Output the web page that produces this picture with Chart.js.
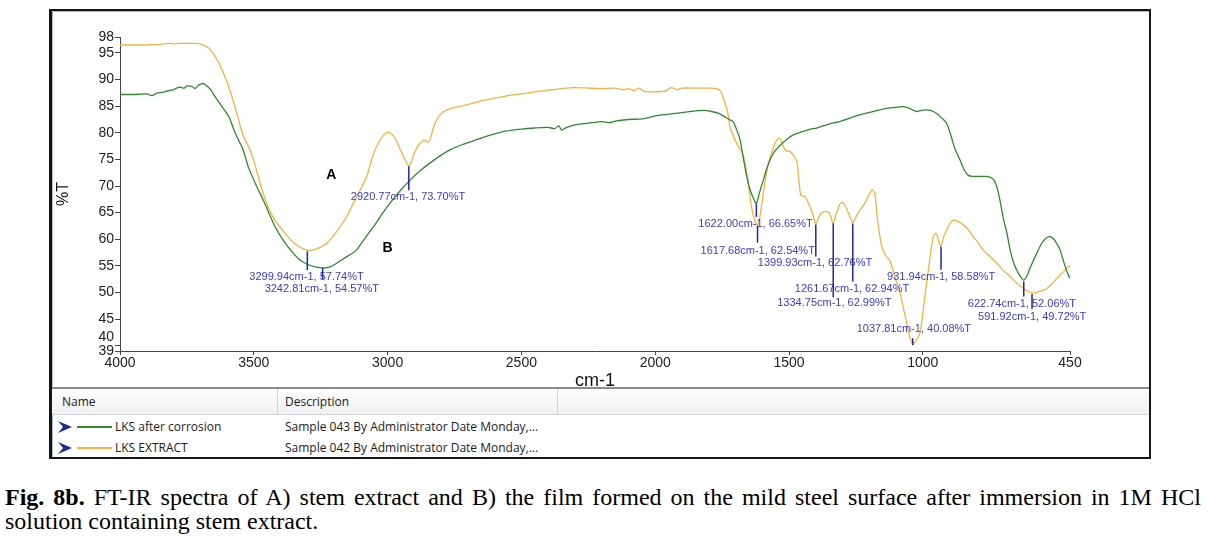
<!DOCTYPE html>
<html>
<head>
<meta charset="utf-8">
<script src="https://cdn.jsdelivr.net/npm/chart.js@4.4.1/dist/chart.umd.min.js"></script>
<style>
  body { margin: 0; width: 1210px; height: 537px; background: #fff; position: relative; overflow: hidden; }
  #frame { position: absolute; left: 49px; top: 9px; width: 1097px; height: 446px;
           border: 2px solid #161616; border-left-width: 3px; box-shadow: inset 1px 1px 0 #a7b7cc; }
  #chart { position: absolute; left: 52px; top: 12px; }
  #sep { position: absolute; left: 52px; top: 387px; width: 1097px; height: 2px; background: #8a8a8a; }
  #head { position: absolute; left: 52px; top: 389px; width: 1097px; height: 25px;
          background: linear-gradient(#fdfdfd, #eef0f3); border-bottom: 1px solid #d4d4d4; }
  .col { position: absolute; top: 389px; width: 1px; height: 25px; background: #d2d2d2; }
  .txt { position: absolute; font: 12px "Open Sans", "Noto Sans", sans-serif; color: #1b1b1b; line-height: 16px; }
  .key { position: absolute; left: 77px; width: 35px; height: 2px; }
  .arrow { position: absolute; left: 58px; }
  .cap { position: absolute; left: 5px; width: 1196px; font: 24px "Liberation Serif", "Times New Roman", serif; color: #000; line-height: 24px; }
</style>
</head>
<body>
<div id="frame"></div>
<canvas id="chart" width="1096" height="378"></canvas>
<div id="sep"></div>
<div id="head"></div>
<div class="col" style="left:277px"></div>
<div class="col" style="left:557px"></div>
<div class="txt" style="left:62px; top:394px">Name</div>
<div class="txt" style="left:285px; top:394px">Description</div>

<svg class="arrow" style="top:421px" width="15" height="12"><polygon points="0,0 14,6 0,12 5,6" fill="#1c2f8f"/></svg>
<div class="key" style="top:426px; background:#2f8a2f"></div>
<div class="txt" style="left:115px; top:419px">LKS after corrosion</div>
<div class="txt" style="left:285px; top:419px">Sample 043 By Administrator Date Monday,...</div>

<svg class="arrow" style="top:442px" width="15" height="12"><polygon points="0,0 14,6 0,12 5,6" fill="#1c2f8f"/></svg>
<div class="key" style="top:447px; background:#f3b23f"></div>
<div class="txt" style="left:115px; top:440px">LKS EXTRACT</div>
<div class="txt" style="left:285px; top:440px">Sample 042 By Administrator Date Monday,...</div>

<div class="cap" style="top:485px; white-space:nowrap; text-align:justify; text-align-last:justify"><b>Fig. 8b.</b> FT-IR spectra of A) stem extract and B) the film formed on the mild steel surface after immersion in 1M HCl</div>
<div class="cap" style="top:509px">solution containing stem extract.</div>

<script>
// LKS EXTRACT (curve A)
const extractWn = [4000, 3950, 3900, 3850, 3820, 3800, 3780, 3750, 3720, 3700, 3680, 3660, 3640, 3620, 3600,
  3580, 3560, 3540, 3514, 3490, 3465, 3440, 3420, 3402, 3370, 3340, 3310, 3290, 3260, 3228, 3200, 3178, 3150,
  3128, 3100, 3078, 3053, 3030, 3010, 2998, 2985, 2970, 2954, 2940, 2925, 2918, 2905, 2891, 2875, 2860, 2850,
  2840, 2825, 2810, 2790, 2760, 2700, 2650, 2600, 2550, 2500, 2450, 2400, 2350, 2300, 2250, 2200, 2150, 2120,
  2100, 2080, 2060, 2040, 2000, 1960, 1940, 1920, 1900, 1850, 1800, 1770, 1755, 1745, 1730, 1720, 1705, 1690,
  1672, 1655, 1640, 1628, 1618, 1608, 1595, 1580, 1560, 1545, 1534, 1522, 1510, 1495, 1480, 1470, 1462, 1455,
  1440, 1425, 1412, 1400, 1390, 1380, 1365, 1350, 1335, 1322, 1310, 1300, 1290, 1278, 1262, 1250, 1235, 1220,
  1205, 1190, 1180, 1170, 1155, 1140, 1123, 1105, 1085, 1070, 1060, 1048, 1038, 1025, 1011, 998, 986, 973, 961,
  950, 940, 932, 922, 911, 898, 886, 870, 849, 830, 812, 795, 775, 750, 724, 700, 674, 650, 625, 605, 592, 570,
  550, 538, 520, 500, 480, 457, 450]
const extractT = [96.5, 96.5, 96.5, 96.6, 96.8, 96.7, 96.8, 96.8, 96.8, 96.7, 96.3, 95.5, 94.0, 92.0, 89.5,
  86.5, 83.0, 79.5, 76.8, 73.0, 68.6, 65.3, 63.5, 62.3, 60.3, 58.9, 58.1, 57.9, 58.3, 59.2, 60.8, 62.3, 64.5,
  66.8, 69.5, 71.8, 76.0, 78.5, 79.8, 80.1, 79.8, 78.8, 77.0, 75.5, 74.0, 73.8, 75.5, 77.2, 78.2, 78.6, 78.2,
  79.0, 81.5, 83.0, 84.0, 84.6, 85.3, 86.0, 86.5, 87.0, 87.3, 87.7, 88.0, 88.3, 88.5, 88.4, 88.3, 88.4, 88.1,
  88.3, 87.9, 88.4, 87.8, 87.7, 87.9, 88.5, 88.1, 88.4, 88.4, 88.4, 88.3, 87.8, 86.5, 84.0, 81.0, 79.0, 77.5,
  76.0, 71.5, 66.0, 63.5, 62.6, 64.5, 69.0, 73.5, 77.0, 78.7, 79.0, 77.5, 76.6, 76.5, 75.5, 74.5, 70.5, 68.2,
  68.0, 66.5, 64.8, 62.9, 64.0, 64.9, 65.2, 65.0, 63.1, 65.0, 66.6, 66.9, 66.3, 65.0, 63.1, 64.2, 65.5, 66.5,
  68.0, 69.3, 68.8, 64.0, 59.0, 57.0, 56.0, 53.0, 49.9, 46.5, 44.2, 41.5, 40.3, 41.0, 42.3, 47.0, 51.7, 56.5, 60.5,
  61.1, 59.5, 58.7, 60.5, 61.8, 63.0, 63.6, 63.4, 62.7, 61.8, 60.5, 59.5, 58.0, 56.8, 55.5, 54.2, 53.0, 51.8, 50.8, 50.2, 49.9, 50.1,
  50.4, 50.7, 51.5, 52.6, 53.6, 54.8, 55.1]

// LKS after corrosion (curve B)
const corrWn = [4000, 3950, 3900, 3880, 3860, 3840, 3820, 3800, 3780, 3760, 3750, 3730, 3720, 3705, 3690, 3675,
  3660, 3641, 3620, 3593, 3570, 3540, 3520, 3490, 3465, 3440, 3420, 3390, 3360, 3330, 3300, 3270, 3240, 3215,
  3190, 3160, 3130, 3116, 3090, 3070, 3053, 3020, 2991, 2950, 2916, 2880, 2842, 2800, 2767, 2720, 2680, 2640,
  2600, 2560, 2500, 2450, 2400, 2375, 2360, 2350, 2340, 2320, 2300, 2250, 2200, 2170, 2150, 2100, 2050, 2020,
  2000, 1950, 1900, 1850, 1820, 1790, 1760, 1740, 1720, 1709, 1695, 1683, 1670, 1658, 1645, 1633, 1622, 1610,
  1596, 1585, 1571, 1555, 1534, 1510, 1484, 1450, 1420, 1397, 1360, 1330, 1310, 1270, 1240, 1210, 1170, 1135,
  1100, 1073, 1050, 1035, 1023, 1005, 985, 961, 945, 930, 911, 895, 880, 861, 845, 830, 815, 786, 760, 743, 733,
  724, 712, 699, 685, 674, 660, 645, 635, 624, 612, 600, 575, 555, 540, 525, 510, 495, 487, 475, 462, 450]
const corrT = [87.2, 87.2, 87.3, 87.0, 87.5, 87.6, 87.9, 88.1, 88.6, 88.4, 88.8, 88.7, 88.3, 89.0, 89.3, 88.8,
  88.0, 86.5, 85.0, 83.0, 80.0, 76.8, 73.5, 70.0, 67.4, 64.5, 62.3, 59.8, 57.8, 56.2, 55.3, 54.8, 54.6, 54.8,
  55.5, 56.5, 57.4, 58.0, 59.8, 61.2, 62.3, 64.8, 66.8, 69.3, 71.1, 72.8, 74.3, 75.8, 76.8, 77.8, 78.5, 79.2,
  79.8, 80.3, 80.7, 80.9, 81.0, 80.8, 81.3, 80.5, 80.8, 81.2, 81.5, 81.8, 82.1, 81.9, 82.2, 82.5, 82.6, 82.9,
  83.2, 83.5, 83.8, 84.1, 84.2, 84.0, 83.6, 83.0, 82.4, 82.1, 80.5, 78.7, 75.0, 71.8, 69.2, 67.7, 66.7, 68.8,
  71.1, 73.0, 74.9, 76.4, 77.6, 78.7, 79.6, 80.2, 80.7, 80.9, 81.5, 81.9, 82.1, 82.8, 83.3, 83.7, 84.2, 84.6,
  84.8, 84.9, 84.6, 84.2, 84.0, 84.2, 84.3, 84.0, 83.5, 82.8, 81.8, 79.5, 77.0, 74.9, 73.0, 72.0, 71.8, 71.8, 71.8, 71.5, 71.0,
  69.9, 67.4, 63.9, 61.0, 58.0, 55.5, 53.8, 53.0, 52.3, 53.0, 54.5, 57.3, 59.3, 60.2, 60.5, 60.0, 58.8, 58.0, 56.0, 54.0, 52.6]

const xTicks = [4000, 3500, 3000, 2500, 2000, 1500, 1000, 450]
const yTicks = [39, 40, 45, 50, 55, 60, 65, 70, 75, 80, 85, 90, 95, 98]

// picked peaks
const peakWn = [2920.77, 3299.94, 3242.81, 1622.00, 1617.68, 1399.93, 1261.67, 1334.75, 931.94, 1037.81, 622.74, 591.92]
const peakT = [73.70, 57.74, 54.57, 66.65, 62.54, 62.76, 62.94, 62.99, 58.58, 40.08, 52.06, 49.72]
// label placement relative to the peak: [text dx, text dy, marker length]
const peakLayout = [[-58, 31, 24], [-58, 26, 19], [-58, 21, 11], [-58, 20, 13], [-57, 25, 17], [-58, 38, 32],
  [-58, 65, 58], [-56, 80, 74], [-54, 30, 23], [-56, -16, -7], [-56, 22, 15], [-54, 23, 15]]

const toPoints = (wn, t) => wn.map((w, i) => ({ x: w, y: t[i] }))

const peakMarks = {
  id: 'peakMarks',
  afterDatasetsDraw(chart) {
    const { ctx, scales: { x, y } } = chart
    ctx.save()
    peakWn.forEach((wn, i) => {
      const px = x.getPixelForValue(wn)
      const py = y.getPixelForValue(peakT[i])
      const [dx, dy, len] = peakLayout[i]
      ctx.strokeStyle = '#2424a6'
      ctx.lineWidth = 1.5
      ctx.beginPath()
      ctx.moveTo(px, py)
      ctx.lineTo(px, py + len)
      ctx.stroke()
      ctx.fillStyle = '#3a3ace'
      ctx.font = '11px "Liberation Sans", Arial, sans-serif'
      ctx.textAlign = 'left'
      ctx.textBaseline = 'middle'
      ctx.fillText(`${wn.toFixed(2)}cm-1, ${peakT[i].toFixed(2)}%T`, px + dx, py + dy)
    })
    // curve names
    ctx.fillStyle = '#000'
    ctx.font = 'bold 14px "Liberation Sans", Arial, sans-serif'
    ctx.textAlign = 'center'
    ctx.fillText('A', x.getPixelForValue(3210), y.getPixelForValue(72))
    ctx.fillText('B', x.getPixelForValue(3000), y.getPixelForValue(58.3))
    ctx.restore()
  }
}

const tickFont = { family: '"Liberation Sans", Arial, sans-serif', size: 14 }

new Chart(document.getElementById('chart'), {
  type: 'line',
  data: {
    datasets: [
      { label: 'LKS after corrosion', data: toPoints(corrWn, corrT), borderColor: '#2f8a2f', borderWidth: 1.3 },
      { label: 'LKS EXTRACT', data: toPoints(extractWn, extractT), borderColor: '#f3b23f', borderWidth: 1.3 }
    ]
  },
  options: {
    responsive: false,
    animation: false,
    devicePixelRatio: 1,
    layout: { padding: { left: 0, right: 78, top: 25, bottom: 0 } },
    elements: { point: { radius: 0 }, line: { tension: 0.25 } },
    plugins: { legend: { display: false }, tooltip: { enabled: false } },
    scales: {
      x: {
        type: 'linear', reverse: true, min: 450, max: 4000,
        afterBuildTicks: s => { s.ticks = xTicks.map(v => ({ value: v })) },
        afterFit: s => { s.height = 39 },
        grid: { drawOnChartArea: false, tickLength: 4, color: '#444' },
        border: { color: '#444' },
        ticks: { font: tickFont, color: '#222', padding: 0, maxRotation: 0, autoSkip: false,
                 callback: v => String(v) },
        title: { display: true, text: 'cm-1', color: '#111', font: { family: '"Liberation Sans", Arial, sans-serif', size: 18, lineHeight: 1 }, padding: 0 }
      },
      y: {
        min: 39, max: 98,
        afterBuildTicks: s => { s.ticks = yTicks.map(v => ({ value: v })) },
        afterFit: s => { s.width = 68 },
        grid: { drawOnChartArea: false, tickLength: 5, color: '#444' },
        border: { color: '#444' },
        ticks: { font: tickFont, color: '#222', padding: 1, autoSkip: false,
                 callback: v => v === 40 ? ['40', ''] : String(v) },
        title: { display: true, text: '%T', color: '#111', font: { family: '"Liberation Sans", Arial, sans-serif', size: 16 }, padding: { top: 2, bottom: 0 } }
      }
    }
  },
  plugins: [peakMarks]
})
</script>
</body>
</html>
